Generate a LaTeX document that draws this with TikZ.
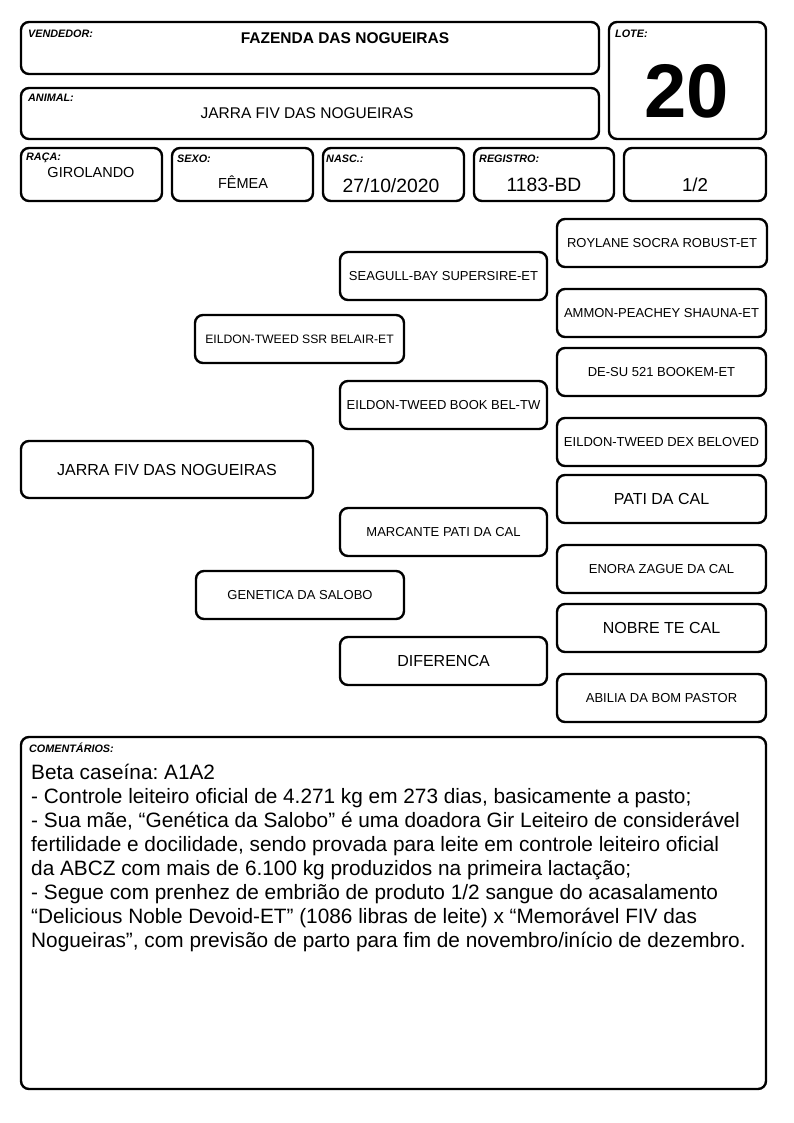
\documentclass[tikz,border=0pt]{standalone}
\usepackage{fontspec}
\setmainfont{Liberation Sans}
\frenchspacing
\begin{document}
\begin{tikzpicture}[x=1pt,y=-1pt,
  box/.style={draw=black,line width=2.4pt,rounded corners=8pt,fill=white},
  lbl/.style={anchor=north west,inner sep=0pt,font=\fontsize{10.8}{12}\selectfont\bfseries\itshape},
  ped/.style={font=\fontsize{13}{15}\selectfont,inner sep=0pt},
  pedb/.style={font=\fontsize{16}{18}\selectfont,inner sep=0pt},
  val/.style={inner sep=0pt,anchor=base}]
\useasboundingbox (0,0) rectangle (794,1123);
% header boxes
\draw[box] (21,22) rectangle (599,74);
\draw[box] (21,88) rectangle (599,139);
\draw[box] (609,22) rectangle (766,139);
\draw[box] (21,148) rectangle (162,201);
\draw[box] (172,148) rectangle (313,201);
\draw[box] (323,148) rectangle (464,201);
\draw[box] (474,148) rectangle (614,201);
\draw[box] (624,148) rectangle (766,201);
\node[lbl] (lv) at (28,30) {VENDEDOR:};
\node[val,font=\fontsize{15.5}{18}\selectfont\bfseries] (vv) at (345,44) {FAZENDA DAS NOGUEIRAS};
\node[lbl] (la) at (28,94) {ANIMAL:};
\node[val,font=\fontsize{15.5}{18}\selectfont] (va) at (307,119) {JARRA FIV DAS NOGUEIRAS};
\node[lbl] (ll) at (615,30) {LOTE:};
\node[val,font=\fontsize{76}{80}\selectfont\bfseries] (vl) at (687,118) {20};
\node[lbl] (lr) at (26,153) {RAÇA:};
\node[val,font=\fontsize{14.5}{16}\selectfont] (vr) at (91,178) {GIROLANDO};
\node[lbl] (ls) at (177,155) {SEXO:};
\node[val,font=\fontsize{14.5}{16}\selectfont] (vs) at (243,189) {FÊMEA};
\node[lbl] (ln) at (326,155) {NASC.:};
\node[val,font=\fontsize{19.3}{21}\selectfont] (vn) at (391,193) {27/10/2020};
\node[lbl] (lg) at (479,155) {REGISTRO:};
\node[val,font=\fontsize{19.3}{21}\selectfont] (vg) at (544,192) {1183-BD};
\node[val,font=\fontsize{18.7}{21}\selectfont] (vf) at (695,192) {1/2};
% pedigree
\draw[box] (557,219) rectangle node[ped] (p1) {ROYLANE SOCRA ROBUST-ET} (767,267);
\draw[box] (340,252) rectangle node[ped] (p2) {SEAGULL-BAY SUPERSIRE-ET} (547,300);
\draw[box] (557,289) rectangle node[ped] (p3) {AMMON-PEACHEY SHAUNA-ET} (766,337);
\draw[box] (195,315) rectangle node[ped,font=\fontsize{12.2}{14}\selectfont] (p4) {EILDON-TWEED SSR BELAIR-ET} (404,363);
\draw[box] (557,348) rectangle node[ped] (p5) {DE-SU 521 BOOKEM-ET} (766,396);
\draw[box] (340,381) rectangle node[ped] (p6) {EILDON-TWEED BOOK BEL-TW} (547,429);
\draw[box] (557,418) rectangle node[ped] (p7) {EILDON-TWEED DEX BELOVED} (766,466);
\draw[box] (21,441) rectangle node[pedb] (p8) {JARRA FIV DAS NOGUEIRAS} (313,498);
\draw[box] (557,475) rectangle node[pedb] (p9) {PATI DA CAL} (766,523);
\draw[box] (340,508) rectangle node[ped] (p10) {MARCANTE PATI DA CAL} (547,556);
\draw[box] (557,545) rectangle node[ped] (p11) {ENORA ZAGUE DA CAL} (766,593);
\draw[box] (196,571) rectangle node[ped] (p12) {GENETICA DA SALOBO} (404,619);
\draw[box] (557,604) rectangle node[pedb] (p13) {NOBRE TE CAL} (766,652);
\draw[box] (340,637) rectangle node[pedb] (p14) {DIFERENCA} (547,685);
\draw[box] (557,674) rectangle node[ped] (p15) {ABILIA DA BOM PASTOR} (766,722);
% comments
\draw[box] (21,737) rectangle (766,1089);
\node[lbl] (lc) at (29,743) {COMENTÁRIOS:};
\node[anchor=north west,inner sep=0pt,align=left,font=\fontsize{20.8}{24}\selectfont] (tc) at (31,764) {Beta caseína: A1A2\\
- Controle leiteiro oficial de 4.271 kg em 273 dias, basicamente a pasto;\\
- Sua mãe, “Genética da Salobo” é uma doadora Gir Leiteiro de considerável\\
fertilidade e docilidade, sendo provada para leite em controle leiteiro oficial\\
da ABCZ com mais de 6.100 kg produzidos na primeira lactação;\\
- Segue com prenhez de embrião de produto 1/2 sangue do acasalamento\\
“Delicious Noble Devoid-ET” (1086 libras de leite) x “Memorável FIV das\\
Nogueiras”, com previsão de parto para fim de novembro/início de dezembro.};
\end{tikzpicture}
\end{document}
